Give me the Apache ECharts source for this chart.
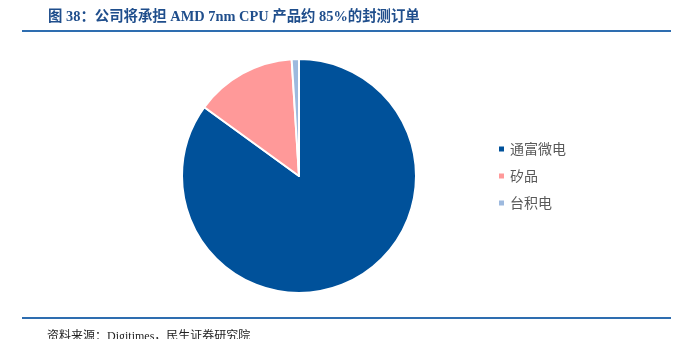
<!DOCTYPE html>
<html><head><meta charset="utf-8">
<script src="https://cdn.jsdelivr.net/npm/echarts@6/dist/echarts.min.js"></script>
<style>html,body{margin:0;padding:0;background:#fff}#c{width:681px;height:339px}</style>
</head><body><div id="c"></div>
<script>
const categories = ['通富微电', '矽品', '台积电'];
const values = [85, 14, 1];
const colors = ['#00519A', '#FF9999', '#9DB9DE'];
const titleText = '图 38：公司将承担 AMD 7nm CPU 产品约 85%的封测订单';
const sourceText = '资料来源：Digitimes，民生证券研究院';

const chart = echarts.init(document.getElementById('c'));
chart.setOption({
  animation: false,
  color: colors,
  legend: {
    orient: 'vertical', left: 492, top: 137,
    itemWidth: 7, itemHeight: 7, itemGap: 13, icon: 'rect',
    textStyle: { fontSize: 14, color: '#595959', fontFamily: 'Noto Sans CJK SC' },
    data: categories
  },
  graphic: [
    { type: 'text', left: 48, top: 10, style: { text: titleText, fill: '#1F4E8C', font: 'bold 14.4px "Liberation Serif", "Noto Sans CJK SC"' } },
    { type: 'rect', shape: { x: 22, y: 30, width: 649, height: 2 }, style: { fill: '#2E6DB0' } },
    { type: 'rect', shape: { x: 22, y: 317, width: 649, height: 2 }, style: { fill: '#2E6DB0' } },
    { type: 'text', left: 47, top: 331, style: { text: sourceText, fill: '#222', font: '12px "Liberation Serif", "Noto Sans CJK SC"' } }
  ],
  series: [{
    type: 'pie', center: [299, 176], radius: 117, startAngle: 90, clockwise: true,
    label: { show: false }, labelLine: { show: false },
    itemStyle: { borderColor: '#fff', borderWidth: 2 },
    emphasis: { disabled: true },
    data: categories.map((n, i) => ({ name: n, value: values[i] }))
  }]
});
</script></body></html>
